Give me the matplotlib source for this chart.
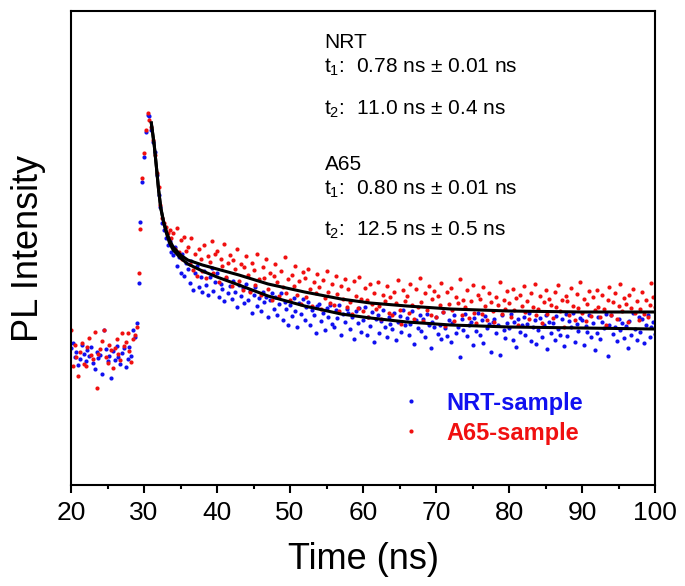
import numpy as np
import matplotlib
matplotlib.use("Agg")
import matplotlib.pyplot as plt

plt.rcParams['font.family'] = ['Liberation Sans', 'DejaVu Sans']
plt.rcParams['mathtext.fontset'] = 'custom'
plt.rcParams['mathtext.rm'] = 'Liberation Sans'
plt.rcParams['mathtext.it'] = 'Liberation Sans'

# time axis: 0.25 ns per channel starting at 20 ns
t0, dt = 20.0, 0.25

# PL intensity (a.u.), NRT-sample
nrt = [
    137, 142, 128, 133, 120, 126, 140, 131,
    124, 135, 129, 138, 122, 116, 133, 127,
    130, 111, 155, 136, 124, 129, 107, 134,
    125, 139, 128, 121, 132, 137, 118, 126,
    138, 129, 155, 148, 162, 202, 263, 303,
    328, 353, 370, 369, 355, 343, 333, 310,
    290, 278, 262, 255, 247, 240, 244, 233,
    230, 238, 219, 228, 212, 231, 209, 222,
    216, 202, 224, 195, 212, 219, 198, 208,
    193, 214, 200, 190, 208, 217, 194, 203,
    212, 188, 201, 196, 184, 207, 192, 199,
    186, 204, 193, 178, 200, 189, 197, 182,
    201, 185, 194, 172, 190, 198, 179, 187,
    174, 193, 183, 188, 168, 185, 192, 176,
    188, 170, 181, 192, 165, 183, 176, 160,
    180, 169, 187, 174, 158, 182, 171, 186,
    165, 178, 183, 160, 175, 170, 152, 179,
    181, 164, 172, 155, 177, 168, 180, 161,
    158, 175, 167, 180, 150, 171, 163, 176,
    172, 156, 168, 146, 174, 162, 177, 153,
    165, 178, 150, 168, 159, 173, 143, 166,
    170, 152, 164, 175, 158, 148, 168, 161,
    156, 172, 145, 163, 169, 153, 175, 160,
    167, 150, 161, 174, 141, 165, 157, 170,
    154, 166, 148, 171, 160, 137, 163, 158,
    168, 151, 160, 146, 173, 157, 149, 165,
    143, 162, 170, 152, 158, 128, 166, 155,
    171, 149, 160, 163, 140, 167, 154, 172,
    150, 165, 142, 169, 157, 161, 133, 163,
    166, 152, 160, 130, 170, 155, 147, 162,
    157, 171, 145, 163, 138, 166, 153, 160,
    168, 150, 161, 172, 144, 158, 165, 141,
    155, 167, 148, 160, 170, 136, 163, 152,
    162, 145, 169, 156, 150, 166, 139, 171,
    149, 164, 158, 172, 143, 161, 154, 167,
    165, 140, 159, 153, 170, 148, 162, 135,
    152, 168, 146, 163, 157, 171, 129, 160,
    170, 151, 158, 144, 166, 155, 162, 147,
    159, 137, 164, 150, 172, 156, 145, 168,
    153, 166, 142, 160, 170, 148, 158, 163,
    151,
]

# PL intensity (a.u.), A65-sample
a65 = [
    155, 119, 140, 128, 109, 133, 142, 121,
    119, 138, 147, 130, 126, 153, 97, 131,
    136, 144, 155, 128, 122, 140, 135, 117,
    137, 146, 131, 125, 152, 139, 143, 152,
    134, 123, 146, 150, 158, 212, 256, 307,
    332, 355, 372, 365, 358, 345, 330, 312,
    298, 280, 267, 262, 258, 252, 255, 247,
    252, 236, 257, 233, 245, 226, 248, 234,
    238, 221, 247, 215, 231, 209, 236, 226,
    214, 240, 207, 229, 223, 244, 212, 231,
    234, 203, 226, 219, 241, 208, 222, 230,
    199, 225, 216, 236, 204, 221, 195, 218,
    229, 210, 193, 222, 215, 200, 231, 206,
    190, 218, 207, 226, 196, 212, 185, 209,
    221, 203, 189, 214, 198, 228, 192, 206,
    185, 210, 199, 219, 190, 204, 181, 213,
    207, 188, 216, 196, 179, 203, 192, 211,
    198, 176, 205, 187, 214, 193, 182, 201,
    180, 209, 191, 174, 199, 186, 206, 178,
    196, 183, 171, 204, 189, 177, 208, 186,
    174, 197, 185, 168, 201, 181, 192, 176,
    203, 179, 166, 190, 184, 199, 172, 188,
    170, 193, 182, 205, 175, 161, 195, 184,
    189, 172, 201, 180, 166, 196, 178, 207,
    183, 164, 192, 175, 199, 170, 186, 194,
    168, 189, 180, 202, 173, 159, 193, 181,
    197, 175, 164, 188, 182, 206, 170, 185,
    178, 195, 167, 184, 200, 172, 162, 190,
    186, 171, 198, 179, 165, 192, 183, 174,
    163, 188, 180, 203, 171, 185, 176, 194,
    182, 168, 196, 175, 187, 160, 190, 179,
    199, 173, 184, 166, 192, 178, 201, 170,
    176, 189, 162, 183, 195, 171, 186, 180,
    167, 193, 178, 200, 174, 185, 158, 189,
    184, 170, 197, 179, 165, 191, 177, 203,
    172, 186, 164, 181, 194, 169, 188, 175,
    195, 178, 168, 190, 176, 160, 185, 198,
    170, 183, 192, 166, 179, 201, 174, 187,
    181, 163, 190, 177, 196, 172, 184, 165,
    176, 193, 171, 185, 168, 180, 202, 188,
    178,
]

# biexponential fit curves
fit_t = [31.0, 31.4, 31.7, 32.0, 32.3, 32.7, 33.1, 33.5, 34.0, 35.0, 36.0,
         38.0, 40.0, 43.0, 47.0, 52.0, 57.0, 61.0, 66.0, 72.0, 80.0, 90.0, 100.0]
fit_nrt = [362, 340, 318, 295, 277, 262, 251, 242, 235, 227, 221,
           214, 208, 200, 189, 179, 171, 167, 163, 160, 158, 157, 156]
fit_a65 = [362, 340, 318, 295, 277, 263, 253, 245, 238, 230, 225,
           220, 216, 210, 201, 193, 186, 182, 179, 176, 174, 173, 173]

t = t0 + dt * np.arange(len(nrt))

fig = plt.figure(figsize=(6.85, 5.86), dpi=100)
ax = fig.add_axes([71 / 685, 1 - 485 / 586, 584 / 685, 474 / 586])

ax.plot(t, nrt, 'o', ms=3.0, mew=0, color='#1010f0', label='NRT-sample')
ax.plot(t, a65, 'o', ms=3.0, mew=0, color='#f01010', label='A65-sample')
ax.plot(fit_t, fit_a65, '-', color='black', lw=2.2)
ax.plot(fit_t, fit_nrt, '-', color='black', lw=2.2)

ax.set_xlim(20, 100)
ax.set_ylim(0, 474)
ax.set_xticks(np.arange(20, 101, 10))
ax.set_xticks(np.arange(25, 100, 10), minor=True)
ax.set_yticks([])
ax.tick_params(axis='x', which='major', direction='out', length=6, width=1.5,
               labelsize=19, pad=5.5)
ax.tick_params(axis='x', which='minor', direction='out', length=3, width=1.5)
for s in ax.spines.values():
    s.set_linewidth(1.5)

ax.set_xlabel('Time (ns)', fontsize=26, labelpad=12)
ax.set_ylabel('PL Intensity', fontsize=26, labelpad=18)

tx = 0.434
fs = 15
ax.text(tx, 0.922, 'NRT', transform=ax.transAxes, fontsize=fs, va='baseline')
ax.text(tx, 0.869, 't$_1$:  0.78 ns ± 0.01 ns', transform=ax.transAxes, fontsize=fs, va='baseline')
ax.text(tx, 0.781, 't$_2$:  11.0 ns ± 0.4 ns', transform=ax.transAxes, fontsize=fs, va='baseline')
ax.text(tx, 0.665, 'A65', transform=ax.transAxes, fontsize=fs, va='baseline')
ax.text(tx, 0.612, 't$_1$:  0.80 ns ± 0.01 ns', transform=ax.transAxes, fontsize=fs, va='baseline')
ax.text(tx, 0.525, 't$_2$:  12.5 ns ± 0.5 ns', transform=ax.transAxes, fontsize=fs, va='baseline')

ax.legend(loc='center left', bbox_to_anchor=(0.526, 0.141), frameon=False,
          handlelength=1.0, handletextpad=1.0, labelspacing=0.3,
          labelcolor='linecolor', prop={'weight': 'bold', 'size': 17})

fig.savefig('out.png', dpi=100)
